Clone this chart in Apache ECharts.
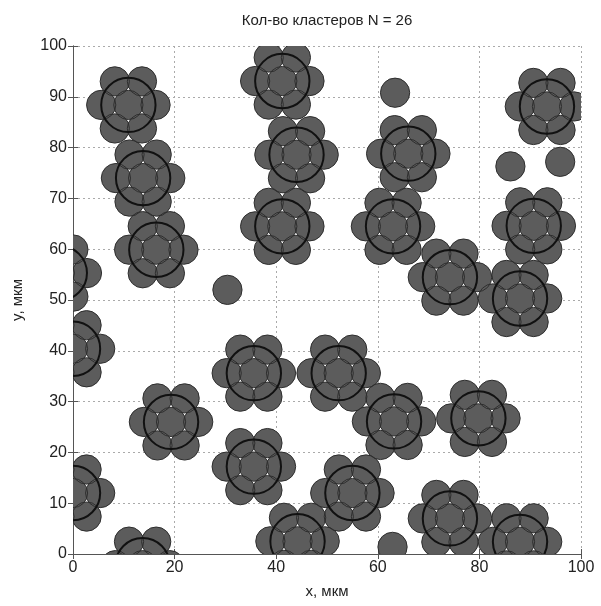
<!DOCTYPE html>
<html>
<head>
<meta charset="utf-8">
<script src="https://cdn.jsdelivr.net/npm/echarts@6/dist/echarts.min.js"></script>
<style>
html,body{margin:0;padding:0;background:#fff;}
#chart{width:601px;height:606px;}
</style>
</head>
<body>
<div id="chart"></div>
<script>
// ---- data (units: мкм) ----
const clusterX = [10.9, 13.8, 16.4, -2.6, 0.0, 0.0, 19.3, 13.7, 41.2, 44.0, 41.2, 66.0, 63.0, 74.2, 93.3, 90.7, 88.0, 35.6, 52.3, 63.2, 79.8, 35.6, 55.0, 44.2, 74.2, 88.0];
const clusterY = [88.4, 74.0, 59.9, 55.3, 40.4, 12.0, 26.0, -2.2, 93.1, 78.6, 64.5, 78.8, 64.5, 54.5, 88.1, 64.6, 50.3, 35.6, 35.6, 26.1, 26.7, 17.2, 12.0, 2.5, 7.0, 2.4];
const singleX = [63.4, 86.1, 95.9, 30.4, 62.9];
const singleY = [90.8, 76.3, 77.2, 52.0, 1.4];
const particleRadius = 2.88;   // radius of one particle
const clusterRadius = 5.35;    // distance centre -> neighbour = radius of the cluster ring
const xTicks = [0, 20, 40, 60, 80, 100];
const yTicks = [0, 10, 20, 30, 40, 50, 60, 70, 80, 90, 100];
const titleText = 'Кол-во кластеров N = 26';
const xName = 'x, мкм';
const yName = 'y, мкм';

// ---- build particle list: each cluster = centre + 6 neighbours ----
const particles = [];
const rings = [];
for (let i = 0; i < clusterX.length; i++) {
  const cx = clusterX[i], cy = clusterY[i];
  particles.push([cx, cy, particleRadius]);
  for (let k = 0; k < 6; k++) {
    const a = k * Math.PI / 3;
    particles.push([cx + clusterRadius * Math.cos(a), cy + clusterRadius * Math.sin(a), particleRadius]);
  }
  rings.push([cx, cy, clusterRadius]);
}
for (let i = 0; i < singleX.length; i++) particles.push([singleX[i], singleY[i], particleRadius]);

function circleItem(style) {
  return function (params, api) {
    const c = api.coord([api.value(0), api.value(1)]);
    const s = api.size([api.value(2), api.value(2)]);
    return { type: 'circle', shape: { cx: c[0], cy: c[1], r: (s[0] + s[1]) / 2 }, style: style };
  };
}

const FONT = '"Liberation Sans", Arial, sans-serif';
const axisLineStyle = { color: '#555', width: 1 };

const chart = echarts.init(document.getElementById('chart'), null, { renderer: 'canvas' });
chart.setOption({
  animation: false,
  backgroundColor: '#fff',
  title: {
    text: titleText, left: 327, top: 13, textAlign: 'center', padding: 0,
    textStyle: { fontFamily: FONT, fontSize: 15, fontWeight: 'normal', color: '#222' }
  },
  grid: { left: 73, top: 46, width: 508, height: 508, containLabel: false },
  xAxis: [{
    type: 'value', min: 0, max: 100, interval: 20, position: 'bottom',
    name: xName, nameLocation: 'middle', nameGap: 30,
    nameTextStyle: { fontFamily: FONT, fontSize: 15, color: '#222' },
    axisLine: { show: true, lineStyle: axisLineStyle },
    axisTick: { show: true, inside: true, length: 5, lineStyle: axisLineStyle },
    axisLabel: { fontFamily: FONT, fontSize: 16, color: '#222', margin: 6,
      formatter: v => xTicks.indexOf(v) >= 0 ? String(v) : '' },
    splitLine: { show: true, lineStyle: { color: '#aaa', type: [2, 3], width: 1 } }
  }, {
    type: 'value', min: 0, max: 100, interval: 20, position: 'top',
    axisLine: { show: true, lineStyle: axisLineStyle },
    axisTick: { show: true, inside: true, length: 5, lineStyle: axisLineStyle },
    axisLabel: { show: false }, splitLine: { show: false }
  }],
  yAxis: [{
    type: 'value', min: 0, max: 100, interval: 10, position: 'left',
    name: yName, nameLocation: 'middle', nameGap: 48, nameRotate: 90,
    nameTextStyle: { fontFamily: FONT, fontSize: 15, color: '#222' },
    axisLine: { show: true, lineStyle: axisLineStyle },
    axisTick: { show: true, inside: true, length: 5, lineStyle: axisLineStyle },
    axisLabel: { fontFamily: FONT, fontSize: 16, color: '#222', margin: 6,
      formatter: v => yTicks.indexOf(v) >= 0 ? String(v) : '' },
    splitLine: { show: true, lineStyle: { color: '#aaa', type: [2, 3], width: 1 } }
  }, {
    type: 'value', min: 0, max: 100, interval: 10, position: 'right',
    axisLine: { show: true, lineStyle: axisLineStyle },
    axisTick: { show: true, inside: true, length: 5, lineStyle: axisLineStyle },
    axisLabel: { show: false }, splitLine: { show: false }
  }],
  series: [{
    type: 'custom', name: 'fill', clip: true, xAxisIndex: 0, yAxisIndex: 0,
    data: particles, renderItem: circleItem({ fill: '#5c5c5c', stroke: null }), z: 2
  }, {
    type: 'custom', name: 'edge', clip: true, xAxisIndex: 0, yAxisIndex: 0,
    data: particles, renderItem: circleItem({ fill: null, stroke: '#2e2e2e', lineWidth: 1 }), z: 3
  }, {
    type: 'custom', name: 'ring', clip: true, xAxisIndex: 0, yAxisIndex: 0,
    data: rings, renderItem: circleItem({ fill: null, stroke: '#111', lineWidth: 2 }), z: 4
  }]
});
</script>
</body>
</html>
